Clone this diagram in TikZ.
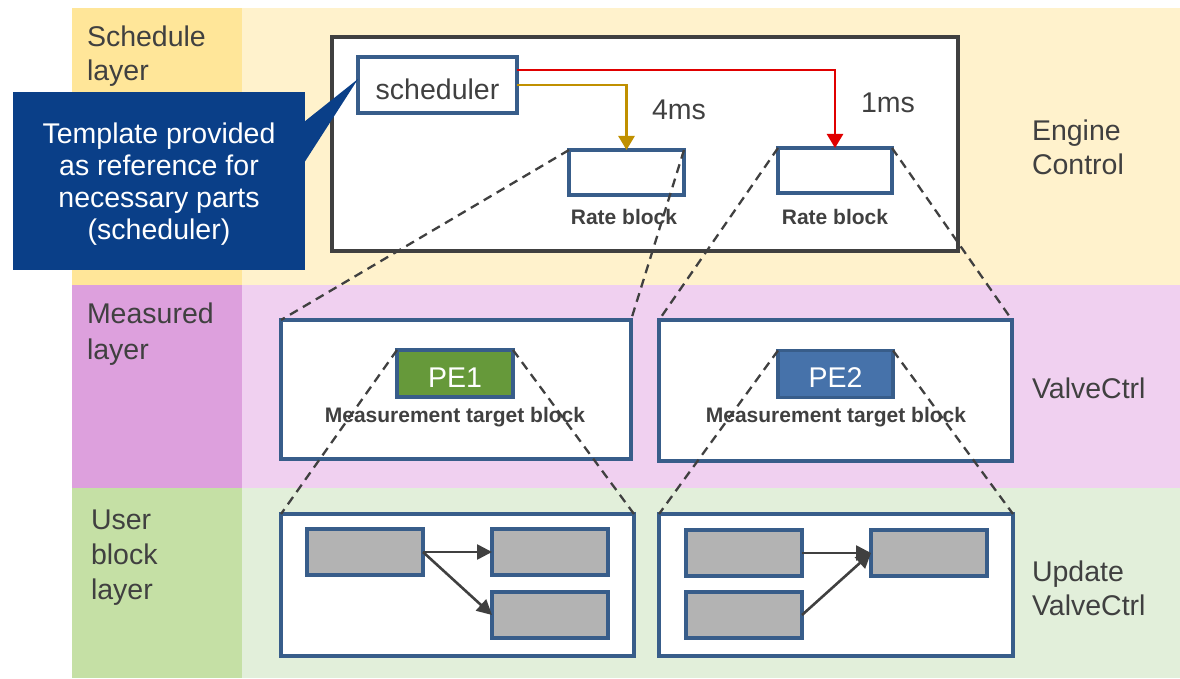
\documentclass[tikz,border=0pt]{standalone}
\usepackage{fontspec}
\setmainfont{Liberation Sans}
\usetikzlibrary{arrows.meta,calc}
\definecolor{schedL}{HTML}{FFE699}
\definecolor{schedM}{HTML}{FFF2CC}
\definecolor{measL}{HTML}{DDA0DD}
\definecolor{measM}{HTML}{F0D0F0}
\definecolor{userL}{HTML}{C5E0A5}
\definecolor{userM}{HTML}{E2EFDA}
\definecolor{txtgray}{HTML}{404040}
\definecolor{boxblue}{HTML}{385D8A}
\definecolor{calloutblue}{HTML}{0A3F88}
\definecolor{pegreen}{HTML}{66993A}
\definecolor{peblue}{HTML}{4672AA}
\definecolor{blockgray}{HTML}{B3B3B3}
\definecolor{arrred}{HTML}{E00000}
\definecolor{arrgold}{HTML}{C09000}
\begin{document}
\begin{tikzpicture}[x=1pt,y=-1pt,
  every node/.style={inner sep=0pt,outer sep=0pt,text=txtgray},
  bigtext/.style={font=\fontsize{28.5}{34}\selectfont},
  boldtext/.style={font=\fontsize{21}{25}\selectfont\bfseries},
  engbox/.style={draw=txtgray,line width=3.8pt,fill=white},
  bluebox/.style={draw=boxblue,line width=3.5pt,fill=white},
  graybox/.style={draw=boxblue,line width=3.5pt,fill=blockgray,minimum width=116pt,minimum height=46pt},
  zoomline/.style={draw=txtgray,line width=2.3pt,dash pattern=on 9pt off 6pt},
  flowarrow/.style={draw=txtgray,line width=2.6pt,-{Triangle[width=15pt,length=15pt]}},
  rratearrow/.style={line width=2.6pt,-{Triangle[width=16pt,length=14pt]}}
]
\useasboundingbox (0,0) rectangle (1180,679);
% layer bands
\fill[schedL] (72,8) rectangle (242,285);
\fill[schedM] (242,8) rectangle (1180,285);
\fill[measL] (72,285) rectangle (242,488);
\fill[measM] (242,285) rectangle (1180,488);
\fill[userL] (72,488) rectangle (242,678);
\fill[userM] (242,488) rectangle (1180,678);
% layer labels
\node[font=\fontsize{28.5}{34}\selectfont,align=left,anchor=west] (lsched) at (87,56) {Schedule\\layer};
\node[font=\fontsize{28.5}{36}\selectfont,align=left,anchor=west] (lmeas) at (87,334) {Measured\\layer};
\node[font=\fontsize{28.5}{35}\selectfont,align=left,anchor=west] (luser) at (91,558) {User\\block\\layer};
\node[bigtext,align=left,anchor=west] (leng) at (1032,147) {Engine\\Control};
\node[bigtext,anchor=west] (lvalve) at (1032,388) {ValveCtrl};
\node[bigtext,align=left,anchor=west] (lupd) at (1032,588) {Update\\ValveCtrl};
% schedule layer
\node[engbox,minimum width=626pt,minimum height=214pt] (eng) at (645,144) {};
\node[bluebox,bigtext,text height=30pt,text depth=0pt,minimum width=159pt,minimum height=56pt] (sch) at (437.5,85) {scheduler};
\node[bluebox,minimum width=115pt,minimum height=45pt] (rb1) at (626.5,172.5) {};
\node[bluebox,minimum width=114pt,minimum height=45pt] (rb2) at (835,170.5) {};
\node[boldtext] (rbl1) at (624,217) {Rate block};
\node[boldtext] (rbl2) at (835,217) {Rate block};
\node[bigtext] (t4) at (679,110) {4ms};
\node[bigtext] (t1) at (888,103) {1ms};
\draw[rratearrow,arrred] ([yshift=15pt]sch.east) -| (rb2.north);
\draw[rratearrow,arrgold] (sch.east) -| (rb1.north);
% measured layer
\node[bluebox,minimum width=350pt,minimum height=139pt] (m1) at (456,389.5) {};
\node[bluebox,minimum width=353pt,minimum height=141pt] (m2) at (835.5,390.5) {};
\node[draw=boxblue,line width=3.5pt,fill=pegreen,text=white,bigtext,text height=27pt,text depth=0pt,minimum width=116pt,minimum height=47pt] (pe1) at (455,373.5) {PE1};
\node[draw=boxblue,line width=3.5pt,fill=peblue,text=white,bigtext,text height=27pt,text depth=0pt,minimum width=115pt,minimum height=47pt] (pe2) at (835.5,374) {PE2};
\node[boldtext] (mt1) at (455,417) {Measurement target block};
\node[boldtext] (mt2) at (836,417) {Measurement target block};
% user block layer
\node[bluebox,minimum width=353pt,minimum height=142pt] (u1) at (457.5,585) {};
\node[bluebox,minimum width=354pt,minimum height=142pt] (u2) at (836,585) {};
\node[graybox] (u1a) at (365,552) {};
\node[graybox] (u1b) at (550,552) {};
\node[graybox] (u1c) at (550,615) {};
\node[graybox] (u2a) at (744,553) {};
\node[graybox] (u2d) at (744,615) {};
\node[graybox] (u2b) at (929,553) {};
\draw[flowarrow] (u1a.east) -- (u1b.west);
\draw[flowarrow] (u1a.east) -- (u1c.west);
\draw[flowarrow] (u2a.east) -- (u2b.west);
\draw[flowarrow] (u2d.east) -- (u2b.west);
% zoom lines
\draw[zoomline] (rb1.north west) -- (m1.north west);
\draw[zoomline] (rb1.north east) -- (m1.north east);
\draw[zoomline] (rb2.north west) -- (m2.north west);
\draw[zoomline] (rb2.north east) -- (m2.north east);
\draw[zoomline] (pe1.north west) -- (u1.north west);
\draw[zoomline] (pe1.north east) -- (u1.north east);
\draw[zoomline] (pe2.north west) -- (u2.north west);
\draw[zoomline] (pe2.north east) -- (u2.north east);
% callout
\node[fill=calloutblue,minimum width=292pt,minimum height=178pt] (call) at (159,181) {};
\fill[calloutblue] ($(call.east)+(-1,-59)$) -- ([yshift=6pt]sch.west) -- ($(call.east)+(-1,-18)$) -- cycle;
\node[text=white,align=center,font=\fontsize{28.5}{32}\selectfont] (calltext) at (159,184) {Template provided\\as reference for\\necessary parts\\(scheduler)};
\end{tikzpicture}
\end{document}
